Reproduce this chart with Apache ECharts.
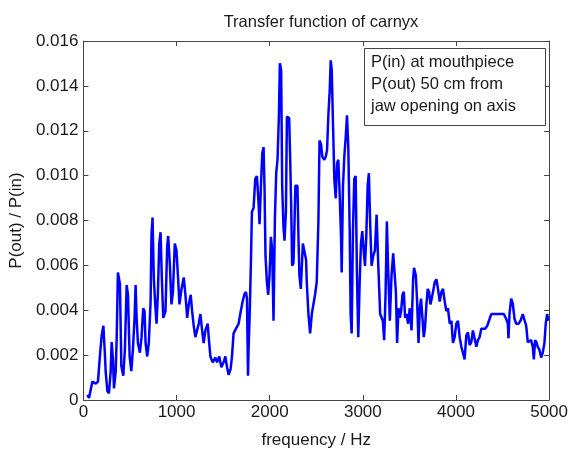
<!DOCTYPE html>
<html>
<head>
<meta charset="utf-8">
<script src="https://cdn.jsdelivr.net/npm/echarts@6/dist/echarts.min.js"></script>
<style>
html,body{margin:0;padding:0;background:#fff;}
#chart{width:571px;height:454px;}
</style>
</head>
<body>
<div id="chart"></div>
<script>
// frequency (Hz)
var freqHz = [43,60,96,132,156,178,196,214,228,239,257,274,292,303,317,328,346,357,370,392,
407,428,445,464,478,496,514,531,549,560,571,585,606,624,642,656,667,685,702,721,
731,742,756,771,785,799,814,828,842,857,881,899,910,927,945,961,981,999,1017,1031,
1053,1077,1095,1114,1131,1152,1167,1184,1202,1221,1238,1256,1274,1291,1309,1334,1345,1363,1388,1417,
1435,1459,1481,1505,1524,1542,1559,1580,1595,1612,1638,1666,1684,1709,1730,1745,1756,1767,1773,1784,
1799,1809,1827,1845,1863,1880,1891,1906,1920,1934,1944,1955,1970,1984,1998,2013,2027,2041,2056,2070,
2084,2099,2109,2123,2134,2148,2159,2174,2185,2209,2220,2230,2241,2255,2266,2276,2298,2308,2319,2334,
2356,2373,2391,2398,2416,2434,2452,2469,2487,2505,2523,2535,2551,2565,2587,2602,2616,2630,2645,2655,
2666,2680,2694,2709,2723,2737,2752,2766,2773,2787,2801,2816,2830,2844,2859,2869,2880,2894,2908,2923,
2937,2951,2966,2980,2994,3009,3023,3037,3052,3065,3079,3094,3111,3130,3148,3165,3186,3201,3215,3229,
3244,3258,3272,3290,3308,3326,3341,3355,3368,3383,3397,3411,3426,3440,3454,3469,3486,3504,3523,3540,
3550,3569,3583,3598,3612,3625,3640,3654,3668,3683,3697,3711,3726,3740,3754,3772,3790,3807,3826,3844,
3861,3879,3897,3914,3933,3951,3968,3986,4004,4022,4040,4058,4075,4093,4111,4129,4147,4165,4182,4200,
4219,4236,4254,4272,4289,4315,4336,4361,4379,4396,4422,4443,4468,4486,4514,4540,4557,4564,4575,4593,
4610,4629,4647,4671,4693,4717,4736,4754,4771,4789,4807,4825,4836,4850,4864,4878,4896,4915,4932,4950,
4964,4979,4993];
// transfer function P(out)/P(in)
var transfer = [0.00023,0.00009,0.00082,0.00073,0.00082,0.00202,0.00288,0.00331,0.00224,0.00125,0.00039,0.00030,0.00125,0.00258,0.00181,0.00052,0.00125,0.00275,0.00568,0.00516,
0.00151,0.00108,0.00224,0.00512,0.00469,0.00194,0.00129,0.00224,0.00366,0.00512,0.00366,0.00254,0.00211,0.00280,0.00409,0.00396,0.00254,0.00194,0.00254,0.00439,
0.00740,0.00813,0.00538,0.00426,0.00340,0.00469,0.00697,0.00748,0.00538,0.00366,0.00396,0.00684,0.00731,0.00611,0.00426,0.00482,0.00697,0.00667,0.00538,0.00426,
0.00495,0.00546,0.00469,0.00366,0.00426,0.00469,0.00396,0.00331,0.00280,0.00280,0.00340,0.00383,0.00310,0.00254,0.00310,0.00340,0.00280,0.00194,0.00168,0.00189,
0.00168,0.00194,0.00146,0.00168,0.00194,0.00146,0.00112,0.00138,0.00194,0.00297,0.00318,0.00340,0.00383,0.00439,0.00473,0.00482,0.00452,0.00108,0.00224,0.00366,
0.00624,0.00839,0.00856,0.00985,0.00998,0.00882,0.00783,0.00955,0.01097,0.01127,0.00955,0.00641,0.00525,0.00469,0.00555,0.00727,0.00667,0.00353,0.00813,0.01011,
0.01071,0.01269,0.01501,0.01471,0.00955,0.00770,0.00710,0.00839,0.01264,0.01256,0.01071,0.00882,0.00598,0.00611,0.00783,0.00955,0.00955,0.00740,0.00555,0.00495,
0.00697,0.00697,0.00624,0.00525,0.00383,0.00297,0.00383,0.00426,0.00469,0.00525,0.00796,0.01157,0.01140,0.01084,0.01071,0.01084,0.01114,0.01269,0.01385,0.01514,
0.01471,0.01226,0.00985,0.00899,0.01054,0.01071,0.00912,0.00727,0.00568,0.00955,0.01084,0.01170,0.01269,0.01127,0.00753,0.00383,0.00297,0.00753,0.00985,0.00998,
0.00555,0.00280,0.00525,0.00697,0.00753,0.00667,0.00598,0.00727,0.00955,0.01011,0.00783,0.00598,0.00641,0.00667,0.00826,0.00611,0.00383,0.00383,0.00353,0.00267,
0.00469,0.00796,0.00581,0.00353,0.00555,0.00654,0.00662,0.00482,0.00254,0.00409,0.00366,0.00396,0.00469,0.00482,0.00366,0.00383,0.00340,0.00409,0.00310,0.00538,
0.00589,0.00555,0.00439,0.00254,0.00409,0.00452,0.00366,0.00280,0.00323,0.00426,0.00495,0.00482,0.00426,0.00452,0.00482,0.00525,0.00538,0.00495,0.00439,0.00482,
0.00495,0.00439,0.00396,0.00409,0.00340,0.00353,0.00254,0.00280,0.00340,0.00353,0.00280,0.00237,0.00211,0.00181,0.00288,0.00301,0.00245,0.00258,0.00310,0.00310,
0.00237,0.00267,0.00280,0.00318,0.00323,0.00318,0.00331,0.00361,0.00383,0.00387,0.00383,0.00387,0.00383,0.00387,0.00383,0.00361,0.00340,0.00275,0.00383,0.00452,
0.00430,0.00361,0.00340,0.00340,0.00353,0.00383,0.00383,0.00331,0.00258,0.00254,0.00267,0.00237,0.00181,0.00267,0.00258,0.00237,0.00224,0.00189,0.00211,0.00254,
0.00340,0.00383,0.00353];
var xTickValues = [0,1000,2000,3000,4000,5000];
var yTickValues = [0,0.002,0.004,0.006,0.008,0.010,0.012,0.014,0.016];
var titleText = 'Transfer function of carnyx';
var xName = 'frequency / Hz';
var yName = 'P(out) / P(in)';
var noteLines = ['P(in) at mouthpiece','P(out) 50 cm from','jaw opening on axis'];

var FONT = '"Liberation Sans", Arial, sans-serif';
var AX = '#444';
var TXT = '#1a1a1a';
var FS = 17;

var chart = echarts.init(document.getElementById('chart'), null, {renderer:'canvas'});
var pts = freqHz.map(function(f,i){return [f, transfer[i]];});
function yFmt(v){ return v === 0 ? '0' : v.toFixed(3); }

function axisCommon(){
  return {
    axisLine:{show:true, onZero:false, lineStyle:{color:AX, width:1}},
    axisTick:{show:true, inside:true, length:5, lineStyle:{color:AX, width:1}},
    splitLine:{show:false}
  };
}

chart.setOption({
  animation:false,
  backgroundColor:'#fff',
  title:{text:titleText, left:316, top:9, textAlign:'center',
    textStyle:{fontFamily:FONT, fontSize:16.5, fontWeight:'normal', color:TXT}},
  grid:{left:83, right:21, top:41, bottom:43},
  xAxis:[
    Object.assign({type:'value', min:0, max:5000, interval:1000, position:'bottom',
      name:xName, nameLocation:'middle', nameGap:32,
      nameTextStyle:{fontFamily:FONT, fontSize:FS, color:TXT},
      axisLabel:{fontFamily:FONT, fontSize:FS, color:TXT, margin:4,
        formatter:function(v){return xTickValues.indexOf(v)>=0 ? String(v) : '';}}}, axisCommon()),
    Object.assign({type:'value', min:0, max:5000, interval:1000, position:'top',
      axisLabel:{show:false}}, axisCommon())
  ],
  yAxis:[
    Object.assign({type:'value', min:0, max:0.016, interval:0.002, position:'left',
      name:yName, nameLocation:'middle', nameGap:54, nameRotate:90,
      nameTextStyle:{fontFamily:FONT, fontSize:FS, color:TXT},
      axisLabel:{fontFamily:FONT, fontSize:FS, color:TXT, margin:5,
        formatter:function(v){return yTickValues.some(function(t){return Math.abs(t-v)<1e-9;}) ? yFmt(v) : '';}}}, axisCommon()),
    Object.assign({type:'value', min:0, max:0.016, interval:0.002, position:'right',
      axisLabel:{show:false}}, axisCommon())
  ],
  graphic:[
    {type:'rect', left:364, top:48, shape:{width:181, height:77},
      style:{fill:'#fff', stroke:AX, lineWidth:1}, z:100},
    {type:'text', left:371, top:51, z:101,
      style:{text:noteLines.join('\n'), font:'16.5px ' + FONT, fill:TXT, lineHeight:22}}
  ],
  series:[{
    type:'line', data:pts, xAxisIndex:0, yAxisIndex:0,
    showSymbol:false, symbol:'none',
    lineStyle:{color:'#0000ff', width:2.5},
    itemStyle:{color:'#0000ff'}
  }]
});
</script>
</body>
</html>
